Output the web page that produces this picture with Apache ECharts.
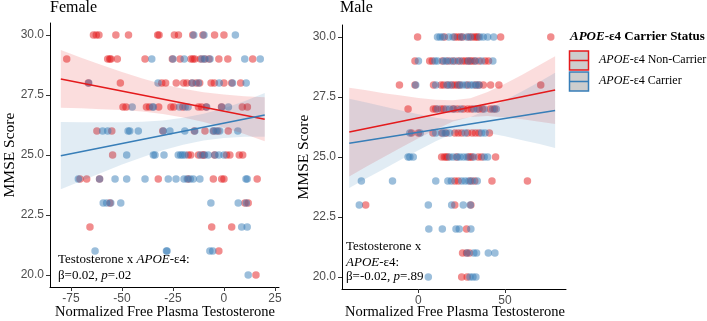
<!DOCTYPE html>
<html><head><meta charset="utf-8">
<script src="https://cdn.jsdelivr.net/npm/echarts@6/dist/echarts.min.js"></script>
<style>html,body{margin:0;padding:0;background:#fff}#c{width:707px;height:321px}</style>
</head><body><div id="c"></div><script>
// ---------- DATA ----------
// MMSE score rows -> free testosterone values (Female, non-carrier)
const femaleNonCarrier = [
  [30, [-64, -62.6, -61.3, -53, -46.8, -32.5, -31.8, -24.3, -22.3, -15.3, -10.3, -4.6, 0]],
  [29, [-77.1, -57, -56, -55.4, -52.3, -38.7, -25.3, -21.5, -16.2, -15.2, -14.3, -11.5, -9.6, -7.3, -2.5, 1.9, 14.1]],
  [28, [-66.5, -50.8, -30.5, -28.6, -23.4, -19.8, -18.2, -15.7, -13.6, -11.9, -6.3, -4.7, 0, 3.8, 8.2]],
  [27, [-49.5, -48, -38, -36.5, -32, -26, -24.6, -20.2, -12.5, -11, -8.7, -1.2, 9, 11.5]],
  [26, [-62.3, -55, -30, -14.5, -9.3, -5, -3, 2.1]],
  [25, [-54.6, -17.5, -16.3, -12.5, -10.5, -9.8, -4.6, 1.3, 2.9, 7.5, 9.2]],
  [24, [-70.6, -67.3, -61, -32.2, -17.5, -5.2, -1.1, 0, 16.3]],
  [23, [-55.9, 10.3, 11.9]],
  [22, [-65.7, -6, 3.8]],
  [21, [-2.5]],
  [20, [15.7]]
];
const femaleCarrier = [
  [30, [-14.8, -9.8, 5.6]],
  [29, [-35.4, -25, -19.5, -10.8, -9.3, -6.8, 10.2, 17.8]],
  [28, [-66.3, -32.3, -15.5, -12.5, -2.3, 4.2, 10.9]],
  [27, [-45, -35, -34.6, -21.8, -19, -17.6, -8.5, -1.1, 2.2]],
  [26, [-59.5, -57, -47, -46.2, -42, -29.7, -26.5, -19.2, -14.3, -5.3, -3.8, -2.1, 6.8]],
  [25, [-47.7, -34.6, -33.8, -29.4, -22.4, -21.2, -20.3, -19.1, -11.5, -9.5, -7.7, -4.4, -2.5, 0]],
  [24, [-71.4, -61, -53.4, -47.7, -38.7, -27.3, -23.5, -19.6, -18, -16.5, -15, -11.8, 10.8, 11.4]],
  [23, [-59.2, -57.5, -55.5, -50.6, -6.4, 7, 11]],
  [22, [8.7, 11.4]],
  [21, [-63.2, -28.2, -27.9, -6.9, -5.5]],
  [20, [11.9]]
];
const maleNonCarrier = [
  [30, [-0.5, 15, 21, 22.5, 24, 25.5, 29, 31, 32.5, 33.5, 34.5, 47.5, 76.5]],
  [29, [-2, 6.5, 8, 13.8, 17, 20, 23, 25.5, 27, 28.5, 30, 31, 32.5, 35, 38.5, 40.5]],
  [28, [-11, -2, 8.7, 13, 14.5, 17, 19.5, 21, 22.5, 24, 28.5, 33, 35, 37.5, 41.7, 46.5, 70.7]],
  [27, [-6, 8.6, 10, 13, 14.5, 20, 22.5, 26, 28.5, 30.5, 35, 37, 41.5, 44]],
  [26, [-4, 0, 8.4, 13.5, 16, 21, 23, 25, 28.5, 31, 33, 35, 41]],
  [25, [13.4, 15, 16, 17, 22, 29, 30, 31, 34.6, 36.5, 44.6]],
  [24, [21, 23, 30, 32.5, 42.5, 63]],
  [23, [-30.5, 21, 30.3]],
  [22, [27.8]],
  [21, [25.5, 27.8, 29.5]],
  [20, [25, 28.2]]
];
const maleCarrier = [
  [30, [11, 12.5, 14, 17.5, 20, 25, 28, 30, 35.5, 37.5, 40, 43.5]],
  [29, [0, 9.5, 11, 14.5, 16, 18.5, 21, 24, 29, 33, 36.5, 43]],
  [28, [-1.6, 10, 16.5, 18.5, 23.5, 25.5, 27.5, 30, 31.5, 33.5, 35]],
  [27, [11, 16, 18, 20.5, 24.5, 32, 34, 38, 43, 45]],
  [26, [-5, 1, 10, 14, 15.5, 18, 27, 36.5, 38.5]],
  [25, [-6, -5, -3, 18, 20, 22.5, 24, 26, 28, 32, 38, 40]],
  [24, [-33, -15, 10, 17, 19, 25, 27, 29, 31, 34]],
  [23, [-34.2, 5.7, 19.2, 25.9, 30]],
  [22, [6, 13.8, 21.7, 23.6, 30.3]],
  [21, [28.2, 32, 33.6, 40.4, 44.2]],
  [20, [5.7, 29.8, 31.5, 33.2]]
];
// fitted lines (endpoints)
const femaleNonCarrierFit = [[-80, 28.17], [20, 26.49]];
const femaleCarrierFit = [[-80, 24.97], [20, 26.67]];
const maleNonCarrierFit = [[-40, 26.04], [79, 27.79]];
const maleCarrierFit = [[-40, 25.57], [79, 26.94]];
// confidence bands
const femaleBandX = [-80, -70, -60, -50, -40, -30, -20, -10, 0, 10, 20];
const femaleNonCarrierUpper = [29.37, 29.05, 28.75, 28.46, 28.19, 27.95, 27.76, 27.61, 27.52, 27.45, 27.41];
const femaleNonCarrierLower = [26.97, 26.95, 26.91, 26.88, 26.81, 26.71, 26.56, 26.37, 26.14, 25.87, 25.57];
const femaleCarrierUpper = [26.37, 26.36, 26.36, 26.36, 26.39, 26.44, 26.55, 26.72, 26.95, 27.24, 27.58];
const femaleCarrierLower = [23.57, 23.92, 24.26, 24.60, 24.91, 25.20, 25.43, 25.60, 25.71, 25.76, 25.76];
const maleBandX = [-40, -30, -20, -10, 0, 10, 20, 30, 40, 50, 60, 70, 79];
const maleNonCarrierUpper = [27.89, 27.78, 27.66, 27.56, 27.46, 27.39, 27.36, 27.45, 27.71, 28.05, 28.43, 28.83, 29.20];
const maleNonCarrierLower = [24.19, 24.60, 25.00, 25.40, 25.78, 26.15, 26.48, 26.67, 26.71, 26.65, 26.57, 26.47, 26.38];
const maleCarrierUpper = [27.43, 27.27, 27.10, 26.94, 26.78, 26.64, 26.54, 26.66, 26.98, 27.36, 27.74, 28.14, 28.51];
const maleCarrierLower = [23.71, 24.11, 24.50, 24.90, 25.28, 25.66, 25.98, 26.10, 26.00, 25.86, 25.70, 25.54, 25.37];
// ticks
const yTicks = [20, 22.5, 25, 27.5, 30];
const femaleXTicks = [-75, -50, -25, 0, 25];
const maleXTicks = [0, 50];

// ---------- STYLE ----------
const RED = '#E41A1C', BLUE = '#377EB8';
const SERIF = '"Liberation Serif","Times New Roman",serif';
const SANS = '"Liberation Sans",Arial,sans-serif';

function flat(rows) { const o = []; rows.forEach(r => r[1].forEach(x => o.push([x, r[0]]))); return o; }

function bandSeries(idx, xs, up, lo, color) {
  return {
    type: 'custom', xAxisIndex: idx, yAxisIndex: idx, data: [0], silent: true, z: 3,
    renderItem: (p, api) => {
      const pts = [];
      xs.forEach((x, k) => pts.push(api.coord([x, up[k]])));
      for (let k = xs.length - 1; k >= 0; k--) pts.push(api.coord([xs[k], lo[k]]));
      return { type: 'polygon', shape: { points: pts }, style: { fill: color, opacity: 0.15 } };
    }
  };
}
function pts(idx, data, color) {
  return { type: 'scatter', xAxisIndex: idx, yAxisIndex: idx, data: flat(data), symbolSize: 7.5, z: 2,
    itemStyle: { color: color, opacity: 0.5 }, silent: true };
}
function fit(idx, data, color) {
  return { type: 'line', xAxisIndex: idx, yAxisIndex: idx, data: data, symbol: 'none', z: 4, silent: true,
    lineStyle: { color: color, width: 1.6 } };
}
function xAx(idx, min, max, ticks) {
  return { gridIndex: idx, type: 'value', min: min, max: max,
    axisLine: { show: true, onZero: false, lineStyle: { color: '#000', width: 1 } },
    axisTick: { show: true, length: 4, customValues: ticks, lineStyle: { color: '#333' } },
    axisLabel: { customValues: ticks, color: '#4d4d4d', fontSize: 12, fontFamily: SANS, margin: 6 },
    splitLine: { show: false } };
}
function yAx(idx, gap) {
  return { gridIndex: idx, type: 'value', min: 19.5, max: 30.5,
    axisLine: { show: true, onZero: false, lineStyle: { color: '#000', width: 1 } },
    axisTick: { show: true, length: 4, customValues: yTicks, lineStyle: { color: '#333' } },
    axisLabel: { customValues: yTicks, color: '#4d4d4d', fontSize: 12, fontFamily: SANS, margin: 6,
      formatter: v => v.toFixed(1) },
    splitLine: { show: false },
    name: 'MMSE Score', nameLocation: 'middle', nameRotate: 90, nameGap: gap, nameMoveOverlap: false,
    nameTextStyle: { fontFamily: SERIF, fontSize: 15.5, color: '#000' } };
}
const richTxt = (size) => ({
  n: { fontFamily: SERIF, fontSize: size, fill: '#000', color: '#000' },
  i: { fontFamily: SERIF, fontSize: size, fontStyle: 'italic', fill: '#000', color: '#000' },
  bn: { fontFamily: SERIF, fontSize: size, fontWeight: 'bold', fill: '#000', color: '#000' },
  bi: { fontFamily: SERIF, fontSize: size, fontWeight: 'bold', fontStyle: 'italic', fill: '#000', color: '#000' }
});
function txt(x, y, text, size, align) {
  return { type: 'text', x: x, y: y, silent: true,
    style: { text: text, rich: richTxt(size), font: size + 'px ' + SERIF, fill: '#000',
      align: align || 'left', verticalAlign: 'middle', lineHeight: 16 } };
}

const chart = echarts.init(document.getElementById('c'), null, { renderer: 'canvas' });
chart.setOption({
  animation: false,
  grid: [
    { left: 50, top: 23, width: 229, height: 264, outerBoundsMode: 'none', containLabel: false },
    { left: 342, top: 25, width: 224, height: 264, outerBoundsMode: 'none', containLabel: false }
  ],
  xAxis: [xAx(0, -85.3, 27, femaleXTicks), xAx(1, -44.2, 85.3, maleXTicks)],
  yAxis: [yAx(0, 32.5), yAx(1, 30)],
  series: [
    pts(0, femaleNonCarrier, RED), pts(0, femaleCarrier, BLUE),
    pts(1, maleNonCarrier, RED), pts(1, maleCarrier, BLUE),
    bandSeries(0, femaleBandX, femaleNonCarrierUpper, femaleNonCarrierLower, RED),
    bandSeries(0, femaleBandX, femaleCarrierUpper, femaleCarrierLower, BLUE),
    bandSeries(1, maleBandX, maleNonCarrierUpper, maleNonCarrierLower, RED),
    bandSeries(1, maleBandX, maleCarrierUpper, maleCarrierLower, BLUE),
    fit(0, femaleNonCarrierFit, RED), fit(0, femaleCarrierFit, BLUE),
    fit(1, maleNonCarrierFit, RED), fit(1, maleCarrierFit, BLUE)
  ],
  graphic: [
    txt(50, 8, 'Female', 16),
    txt(340, 8, 'Male', 16),
    txt(165, 312, '{n|Normalized Free Plasma Testosterone}', 14.5, 'center'),
    txt(455, 312, '{n|Normalized Free Plasma Testosterone}', 14.5, 'center'),
    txt(58, 260, '{n|Testosterone x }{i|APOE}{n|-ε4:}', 13),
    txt(58, 276, '{n|β=0.02, }{i|p}{n|=.02}', 13),
    txt(346, 246.5, '{n|Testosterone x}', 13),
    txt(346, 262.5, '{i|APOE}{n|-ε4:}', 13),
    txt(346, 277, '{n|β=-0.02, }{i|p}{n|=.89}', 13),
    txt(570, 37, '{bi|APOE}{bn|-ε4 Carrier Status}', 13),
    { type: 'rect', shape: { x: 569.5, y: 51, width: 19, height: 19 }, style: { fill: '#cdcdcd', stroke: RED, lineWidth: 1.5 }, silent: true },
    { type: 'line', shape: { x1: 569.5, y1: 60.5, x2: 588.5, y2: 60.5 }, style: { stroke: RED, lineWidth: 1.5 }, silent: true },
    txt(599, 60, '{i|APOE}{n|-ε4 Non-Carrier}', 12),
    { type: 'rect', shape: { x: 569.5, y: 72, width: 19, height: 19 }, style: { fill: '#cdcdcd', stroke: BLUE, lineWidth: 1.5 }, silent: true },
    { type: 'line', shape: { x1: 569.5, y1: 81.5, x2: 588.5, y2: 81.5 }, style: { stroke: BLUE, lineWidth: 1.5 }, silent: true },
    txt(599, 81, '{i|APOE}{n|-ε4 Carrier}', 12)
  ]
});
</script></body></html>
